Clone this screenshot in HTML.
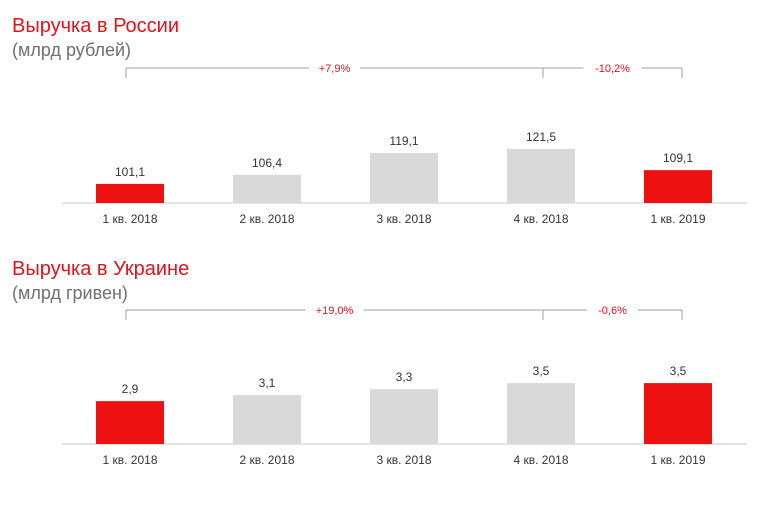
<!DOCTYPE html>
<html><head><meta charset="utf-8"><style>
body{margin:0;background:#fff;width:757px;height:512px;overflow:hidden;font-family:"Liberation Sans",Arial,sans-serif}
svg text{font-family:"Liberation Sans",Arial,sans-serif}
</style></head><body>
<svg id="c" width="757" height="512">
<text x="12" y="32" font-size="20" fill="#e4121b">Выручка в России</text>
<text x="12" y="56" font-size="18" fill="#707070">(млрд рублей)</text>
<text x="12" y="275" font-size="20" fill="#e4121b">Выручка в Украине</text>
<text x="12" y="299" font-size="18" fill="#707070">(млрд гривен)</text>
</svg>
<script>
const categories=["1 кв. 2018","2 кв. 2018","3 кв. 2018","4 кв. 2018","1 кв. 2019"];
const russiaValues=[101.1,106.4,119.1,121.5,109.1];
const russiaLabels=["101,1","106,4","119,1","121,5","109,1"];
const ukraineValues=[2.9,3.1,3.3,3.5,3.5];
const ukraineLabels=["2,9","3,1","3,3","3,5","3,5"];
const russiaChanges=["+7,9%","-10,2%"];
const ukraineChanges=["+19,0%","-0,6%"];
const highlight=[true,false,false,false,true];
const svg=document.getElementById('c');
const NS="http://www.w3.org/2000/svg";
function mk(tag,attrs){const e=document.createElementNS(NS,tag);for(const k in attrs)e.setAttribute(k,attrs[k]);svg.appendChild(e);return e;}
function xCenter(i){return 130+i*137;}
function drawChart(prefix,values,labels,changes,base,vmin,scale,bracketY){
  const yOf=v=>base-(v-vmin)*scale;
  const ax=mk('line',{x1:62,x2:747,y1:base,y2:base,stroke:'#c8c8c8','stroke-width':1});
  
  
  values.forEach((v,i)=>{
    const y=yOf(v);
    const r=mk('rect',{x:xCenter(i)-34,y:y,width:68,height:base-y,fill:highlight[i]?'#ee1111':'#d9d9d9'});
    
    
    const t=mk('text',{x:xCenter(i),y:y-8,'text-anchor':'middle','font-size':12,fill:'#333'});
    t.textContent=labels[i];
    
    
    const c=mk('text',{x:xCenter(i),y:base+20,'text-anchor':'middle','font-size':12,fill:'#333'});
    c.textContent=categories[i];
    
    
  });
  const g='#a0a0a0';
  const x0=126,x1=543,x2=682;
  [[x0,x1,changes[0]],[x1,x2,changes[1]]].forEach(([a,b,lab],k)=>{
    const m=(a+b)/2, hw=lab.length*3.5+8;
    const l1=mk('line',{x1:a,x2:m-hw,y1:bracketY,y2:bracketY,stroke:g});
    
    
    const l2=mk('line',{x1:m+hw,x2:b,y1:bracketY,y2:bracketY,stroke:g});
    
    
    const t=mk('text',{x:m,y:bracketY+4,'text-anchor':'middle','font-size':11,fill:'#e4121b'});
    t.textContent=lab;
    
    
  });
  [x0,x1,x2].forEach(x=>{
    const tk=mk('line',{x1:x,x2:x,y1:bracketY,y2:bracketY+10,stroke:g});
    
    
  });
}
drawChart('russia',russiaValues,russiaLabels,russiaChanges,203,90,1.72,68);
drawChart('ukraine',ukraineValues,ukraineLabels,ukraineChanges,444,1.47,30,310);
</script>
</body></html>
